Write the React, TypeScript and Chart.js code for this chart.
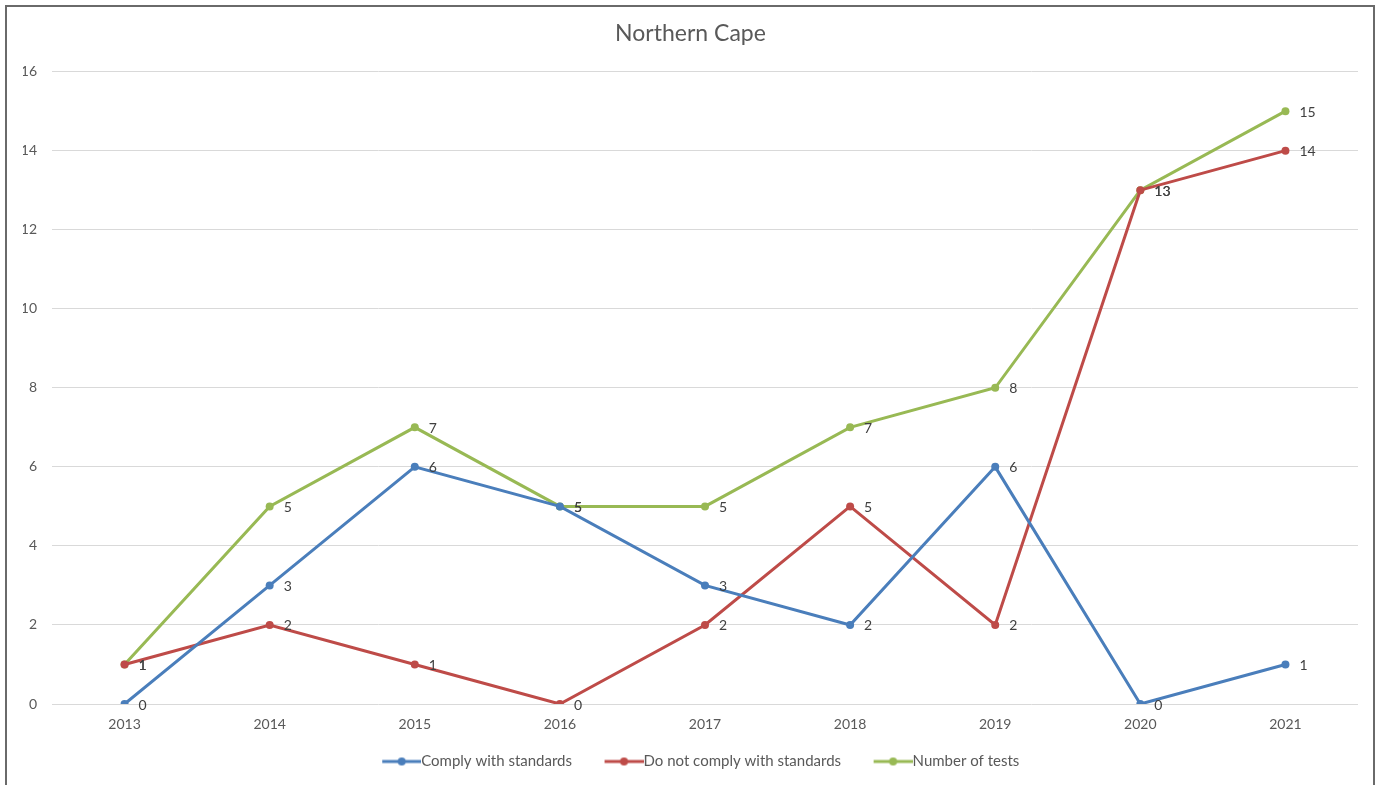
import React, { useEffect, useRef } from "react";
import { Chart, registerables } from "chart.js";

Chart.register(...registerables);

const title = "Northern Cape";
const years = ["2013", "2014", "2015", "2016", "2017", "2018", "2019", "2020", "2021"];
const complyValues = [0, 3, 6, 5, 3, 2, 6, 0, 1];
const notComplyValues = [1, 2, 1, 0, 2, 5, 2, 13, 14];
const testsValues = [1, 5, 7, 5, 5, 7, 8, 13, 15];
const seriesNames = ["Comply with standards", "Do not comply with standards", "Number of tests"];
const seriesColors = ["#4A7EBB", "#BE4B48", "#98B954"];

const FONT = "Lato, 'Open Sans', sans-serif";
const LEGEND_BOX = 52;
const LEGEND_FONT = 15;

function makeLegendIcon(color: string): HTMLCanvasElement {
  const W = LEGEND_BOX + LEGEND_FONT;
  const c = document.createElement("canvas");
  c.width = W;
  c.height = 10;
  const g = c.getContext("2d")!;
  const start = W - 39;
  g.strokeStyle = color;
  g.lineWidth = 3;
  g.beginPath();
  g.moveTo(start, 5);
  g.lineTo(W, 5);
  g.stroke();
  g.fillStyle = color;
  g.beginPath();
  g.arc(start + 19.5, 5, 4, 0, Math.PI * 2);
  g.fill();
  return c;
}

const pointLabels = {
  id: "pointLabels",
  afterDatasetsDraw(chart: any) {
    const ctx = chart.ctx;
    ctx.save();
    ctx.font = `14px ${FONT}`;
    ctx.fillStyle = "#404040";
    ctx.textAlign = "left";
    ctx.textBaseline = "middle";
    chart.data.datasets.forEach((ds: any, i: number) => {
      const meta = chart.getDatasetMeta(i);
      meta.data.forEach((pt: any, j: number) => {
        ctx.fillText(String(ds.data[j]), pt.x + 14, pt.y + 1);
      });
    });
    ctx.restore();
  },
};

export default function App() {
  const ref = useRef<HTMLCanvasElement>(null);

  useEffect(() => {
    if (!ref.current) return;
    const allValues = [complyValues, notComplyValues, testsValues];
    const icons = seriesColors.map((c) => makeLegendIcon(c));
    const chart = new Chart(ref.current, {
      type: "line",
      data: {
        labels: years,
        datasets: allValues.map((vals, i) => ({
          label: seriesNames[i],
          data: vals,
          borderColor: seriesColors[i],
          backgroundColor: seriesColors[i],
          borderWidth: 3,
          pointRadius: 4,
          pointBorderWidth: 0,
          pointBackgroundColor: seriesColors[i],
          pointStyle: "circle",
          tension: 0,
        })),
      },
      options: {
        animation: false,
        responsive: false,
        layout: { padding: { top: 10, right: 23, bottom: 6, left: 23 } },
        plugins: {
          title: {
            display: true,
            text: title,
            color: "#595959",
            font: { family: FONT, size: 23, weight: "normal" },
            padding: { top: 10, bottom: 24 },
          },
          legend: {
            position: "bottom",
            labels: {
              usePointStyle: true,
              pointStyleWidth: LEGEND_BOX,
              padding: 12,
              color: "#595959",
              font: { family: FONT, size: LEGEND_FONT },
              generateLabels: (ch: any) =>
                ch.data.datasets.map((ds: any, i: number) => ({
                  text: ds.label,
                  fillStyle: ds.borderColor,
                  strokeStyle: ds.borderColor,
                  fontColor: "#595959",
                  lineWidth: 0,
                  pointStyle: icons[i],
                  datasetIndex: i,
                  hidden: false,
                })),
            },
          },
          tooltip: { enabled: false },
        },
        scales: {
          x: {
            offset: true,
            grid: { display: false, drawTicks: false },
            border: { display: false },
            ticks: { color: "#595959", font: { family: FONT, size: 14 }, padding: 12, maxRotation: 0 },
            afterFit: (s: any) => {
              s.height = 38;
            },
          },
          y: {
            min: 0,
            max: 16,
            grid: { color: "#D9D9D9", lineWidth: 1, drawTicks: false },
            border: { display: false },
            ticks: { stepSize: 2, color: "#595959", font: { family: FONT, size: 14 }, padding: 15 },
            afterFit: (s: any) => {
              s.width = 29;
            },
          },
        },
      },
      plugins: [pointLabels],
    } as any);
    return () => chart.destroy();
  }, []);

  return (
    <>
      <div style={{ position: "fixed", left: 0, top: 0, width: 1381, height: 785, background: "#fff" }}>
        <canvas ref={ref} width={1381} height={785} style={{ width: 1381, height: 785, display: "block" }} />
      </div>
      <div
        style={{
          position: "fixed",
          left: 5,
          top: 5,
          width: 1370,
          height: 820,
          border: "2px solid #6a6a6a",
          boxSizing: "border-box",
          pointerEvents: "none",
        }}
      />
    </>
  );
}
